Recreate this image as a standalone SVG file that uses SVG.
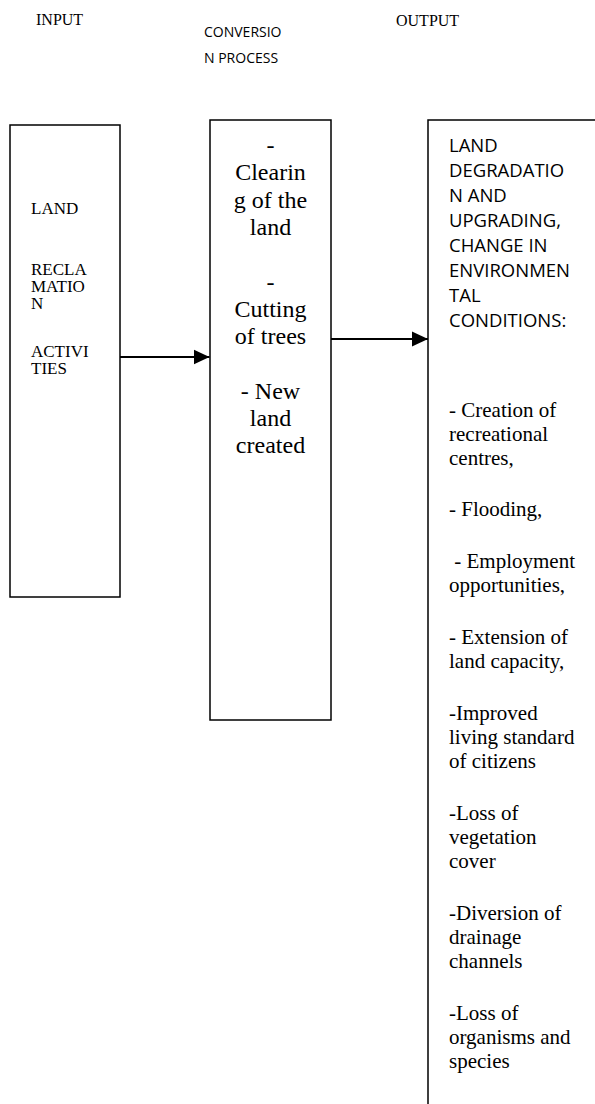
<svg xmlns="http://www.w3.org/2000/svg" width="595" height="1104" viewBox="0 0 595 1104">
<style>
.box{fill:#fff;stroke:#000;stroke-width:1.5}
.tnr{font-family:"Liberation Serif","Times New Roman",serif;fill:#000}
.cal{font-family:"Open Sans","Noto Sans",sans-serif;fill:#000}
.conn{stroke:#000;stroke-width:2;fill:none}
</style>
<defs>
<marker id="ah" markerUnits="userSpaceOnUse" markerWidth="16" markerHeight="16" refX="16" refY="8" orient="auto" viewBox="0 0 16 16">
<path d="M0,0.5 L16,8 L0,15.5 Z" fill="#000"/>
</marker>
</defs>
<rect width="595" height="1104" fill="#fff"/>
<g id="headers">
<text class="tnr" x="36" y="25" font-size="16">INPUT</text>
<text class="cal" x="204" y="37" font-size="14">CONVERSIO</text>
<text class="cal" x="204" y="63" font-size="14">N PROCESS</text>
<text class="tnr" x="396" y="26" font-size="16">OUTPUT</text>
</g>
<g id="input">
<rect class="box" x="10" y="125" width="110" height="472"/>
<g class="tnr" font-size="17">
<text x="31" y="214">LAND</text>
<text x="31" y="275">RECLA</text>
<text x="31" y="292">MATIO</text>
<text x="31" y="309">N</text>
<text x="31" y="357">ACTIVI</text>
<text x="31" y="374">TIES</text>
</g>
</g>
<g id="process">
<rect class="box" x="210" y="120" width="121" height="600"/>
<g class="tnr" font-size="24" text-anchor="middle">
<text x="270.5" y="153">-</text>
<text x="270.5" y="180.3">Clearin</text>
<text x="270.5" y="207.6">g of the</text>
<text x="270.5" y="234.9">land</text>
<text x="270.5" y="289.5">-</text>
<text x="270.5" y="316.8">Cutting</text>
<text x="270.5" y="344.1">of trees</text>
<text x="270.5" y="398.7">- New</text>
<text x="270.5" y="426">land</text>
<text x="270.5" y="453.3">created</text>
</g>
</g>
<g id="output">
<rect class="box" x="428" y="120" width="200" height="1010"/>
<g class="cal" font-size="18.5">
<text x="449" y="151.7">LAND</text>
<text x="449" y="176.7">DEGRADATIO</text>
<text x="449" y="201.7">N AND</text>
<text x="449" y="226.7">UPGRADING,</text>
<text x="449" y="251.7">CHANGE IN</text>
<text x="449" y="276.7">ENVIRONMEN</text>
<text x="449" y="301.7">TAL</text>
<text x="449" y="326.7">CONDITIONS:</text>
</g>
<g class="tnr" font-size="21">
<text x="449" y="417">- Creation of</text>
<text x="449" y="441">recreational</text>
<text x="449" y="465">centres,</text>
<text x="449" y="516">- Flooding,</text>
<text x="449" y="568" xml:space="preserve"> - Employment</text>
<text x="449" y="592">opportunities,</text>
<text x="449" y="644">- Extension of</text>
<text x="449" y="668">land capacity,</text>
<text x="449" y="720">-Improved</text>
<text x="449" y="744">living standard</text>
<text x="449" y="768">of citizens</text>
<text x="449" y="820">-Loss of</text>
<text x="449" y="844">vegetation</text>
<text x="449" y="868">cover</text>
<text x="449" y="920">-Diversion of</text>
<text x="449" y="944">drainage</text>
<text x="449" y="968">channels</text>
<text x="449" y="1020">-Loss of</text>
<text x="449" y="1044">organisms and</text>
<text x="449" y="1068">species</text>
</g>
</g>
<g id="connectors">
<line class="conn" x1="120" y1="357" x2="209.5" y2="357" marker-end="url(#ah)"/>
<line class="conn" x1="331" y1="339" x2="428" y2="339" marker-end="url(#ah)"/>
</g>
</svg>
